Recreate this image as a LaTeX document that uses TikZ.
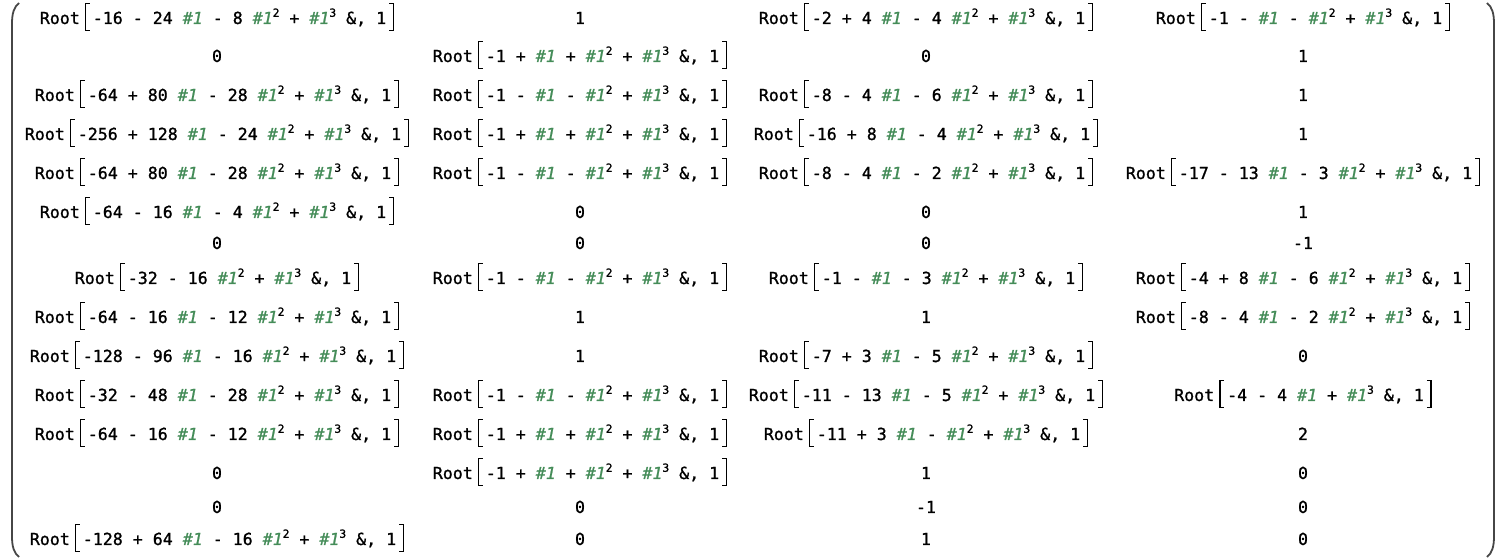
\documentclass[tikz,border=0pt]{standalone}
\usepackage{fontspec}
\usepackage{xcolor}
\newfontfamily\mmafont[FakeBold=1.2]{DejaVu Sans Mono}
\definecolor{slotgreen}{RGB}{68,140,88}
\definecolor{parengray}{RGB}{70,70,70}
\newcommand{\slotA}{{\color{slotgreen}\itshape\#1}}
\newcommand{\supd}[1]{\raisebox{3.6pt}{\fontsize{5.6}{6}\selectfont#1}}
\newcommand{\slotB}{\slotA\supd{2}}
\newcommand{\slotC}{\slotA\supd{3}}
\newcommand{\lbk}{\rule[-3.5pt]{0.7pt}{14pt}\rule[-3.5pt]{1.8pt}{0.6pt}\kern-1.8pt\rule[9.9pt]{1.8pt}{0.6pt}}
\newcommand{\rbk}{\rule[-3.5pt]{1.8pt}{0.6pt}\kern-1.8pt\rule[9.9pt]{1.8pt}{0.6pt}\rule[-3.5pt]{0.7pt}{14pt}}
\newcommand{\rt}[1]{Root\kern2.5pt\lbk\kern1.5pt#1 \&, 1\kern1.5pt\rbk}

\begin{document}
\begin{tikzpicture}[x=0.5pt,y=-0.5pt,
		cell/.style={anchor=base, inner sep=0pt, font=\mmafont\fontsize{8.3}{10}\selectfont},
		paren/.style={draw=parengray, line width=0.9pt}]
		\useasboundingbox (0,0) rectangle (1504,560);

		\node[cell] (r1c1) at (217,24) {\rt{-16 - 24 \slotA{} - 8 \slotB{} + \slotC}};
		\node[cell] (r1c2) at (580,24) {1};
		\node[cell] (r1c3) at (926,24) {\rt{-2 + 4 \slotA{} - 4 \slotB{} + \slotC}};
		\node[cell] (r1c4) at (1303,24) {\rt{-1 - \slotA{} - \slotB{} + \slotC}};

		\node[cell] (r2c1) at (217,62) {0};
		\node[cell] (r2c2) at (580,62) {\rt{-1 + \slotA{} + \slotB{} + \slotC}};
		\node[cell] (r2c3) at (926,62) {0};
		\node[cell] (r2c4) at (1303,62) {1};

		\node[cell] (r3c1) at (217,101) {\rt{-64 + 80 \slotA{} - 28 \slotB{} + \slotC}};
		\node[cell] (r3c2) at (580,101) {\rt{-1 - \slotA{} - \slotB{} + \slotC}};
		\node[cell] (r3c3) at (926,101) {\rt{-8 - 4 \slotA{} - 6 \slotB{} + \slotC}};
		\node[cell] (r3c4) at (1303,101) {1};

		\node[cell] (r4c1) at (217,140) {\rt{-256 + 128 \slotA{} - 24 \slotB{} + \slotC}};
		\node[cell] (r4c2) at (580,140) {\rt{-1 + \slotA{} + \slotB{} + \slotC}};
		\node[cell] (r4c3) at (926,140) {\rt{-16 + 8 \slotA{} - 4 \slotB{} + \slotC}};
		\node[cell] (r4c4) at (1303,140) {1};

		\node[cell] (r5c1) at (217,179) {\rt{-64 + 80 \slotA{} - 28 \slotB{} + \slotC}};
		\node[cell] (r5c2) at (580,179) {\rt{-1 - \slotA{} - \slotB{} + \slotC}};
		\node[cell] (r5c3) at (926,179) {\rt{-8 - 4 \slotA{} - 2 \slotB{} + \slotC}};
		\node[cell] (r5c4) at (1303,179) {\rt{-17 - 13 \slotA{} - 3 \slotB{} + \slotC}};

		\node[cell] (r6c1) at (217,218) {\rt{-64 - 16 \slotA{} - 4 \slotB{} + \slotC}};
		\node[cell] (r6c2) at (580,218) {0};
		\node[cell] (r6c3) at (926,218) {0};
		\node[cell] (r6c4) at (1303,218) {1};

		\node[cell] (r7c1) at (217,249) {0};
		\node[cell] (r7c2) at (580,249) {0};
		\node[cell] (r7c3) at (926,249) {0};
		\node[cell] (r7c4) at (1303,249) {-1};

		\node[cell] (r8c1) at (217,284) {\rt{-32 - 16 \slotB{} + \slotC}};
		\node[cell] (r8c2) at (580,284) {\rt{-1 - \slotA{} - \slotB{} + \slotC}};
		\node[cell] (r8c3) at (926,284) {\rt{-1 - \slotA{} - 3 \slotB{} + \slotC}};
		\node[cell] (r8c4) at (1303,284) {\rt{-4 + 8 \slotA{} - 6 \slotB{} + \slotC}};

		\node[cell] (r9c1) at (217,323) {\rt{-64 - 16 \slotA{} - 12 \slotB{} + \slotC}};
		\node[cell] (r9c2) at (580,323) {1};
		\node[cell] (r9c3) at (926,323) {1};
		\node[cell] (r9c4) at (1303,323) {\rt{-8 - 4 \slotA{} - 2 \slotB{} + \slotC}};

		\node[cell] (r10c1) at (217,362) {\rt{-128 - 96 \slotA{} - 16 \slotB{} + \slotC}};
		\node[cell] (r10c2) at (580,362) {1};
		\node[cell] (r10c3) at (926,362) {\rt{-7 + 3 \slotA{} - 5 \slotB{} + \slotC}};
		\node[cell] (r10c4) at (1303,362) {0};

		\node[cell] (r11c1) at (217,401) {\rt{-32 - 48 \slotA{} - 28 \slotB{} + \slotC}};
		\node[cell] (r11c2) at (580,401) {\rt{-1 - \slotA{} - \slotB{} + \slotC}};
		\node[cell] (r11c3) at (926,401) {\rt{-11 - 13 \slotA{} - 5 \slotB{} + \slotC}};
		\node[cell] (r11c4) at (1303,401) {\rt{-4 - 4 \slotA{} + \slotC}};

		\node[cell] (r12c1) at (217,440) {\rt{-64 - 16 \slotA{} - 12 \slotB{} + \slotC}};
		\node[cell] (r12c2) at (580,440) {\rt{-1 + \slotA{} + \slotB{} + \slotC}};
		\node[cell] (r12c3) at (926,440) {\rt{-11 + 3 \slotA{} - \slotB{} + \slotC}};
		\node[cell] (r12c4) at (1303,440) {2};

		\node[cell] (r13c1) at (217,479) {0};
		\node[cell] (r13c2) at (580,479) {\rt{-1 + \slotA{} + \slotB{} + \slotC}};
		\node[cell] (r13c3) at (926,479) {1};
		\node[cell] (r13c4) at (1303,479) {0};

		\node[cell] (r14c1) at (217,513) {0};
		\node[cell] (r14c2) at (580,513) {0};
		\node[cell] (r14c3) at (926,513) {-1};
		\node[cell] (r14c4) at (1303,513) {0};

		\node[cell] (r15c1) at (217,545) {\rt{-128 + 64 \slotA{} - 16 \slotB{} + \slotC}};
		\node[cell] (r15c2) at (580,545) {0};
		\node[cell] (r15c3) at (926,545) {1};
		\node[cell] (r15c4) at (1303,545) {0};

		\draw[paren] (19,3) .. controls (14,7) and (12,13) .. (12,24) -- (12,536) .. controls (12,547) and (14,553) .. (19,557);
		\draw[paren] (1487,3) .. controls (1492,7) and (1494,13) .. (1494,24) -- (1494,536) .. controls (1494,547) and (1492,553) .. (1487,557);
	\end{tikzpicture}
\end{document}
